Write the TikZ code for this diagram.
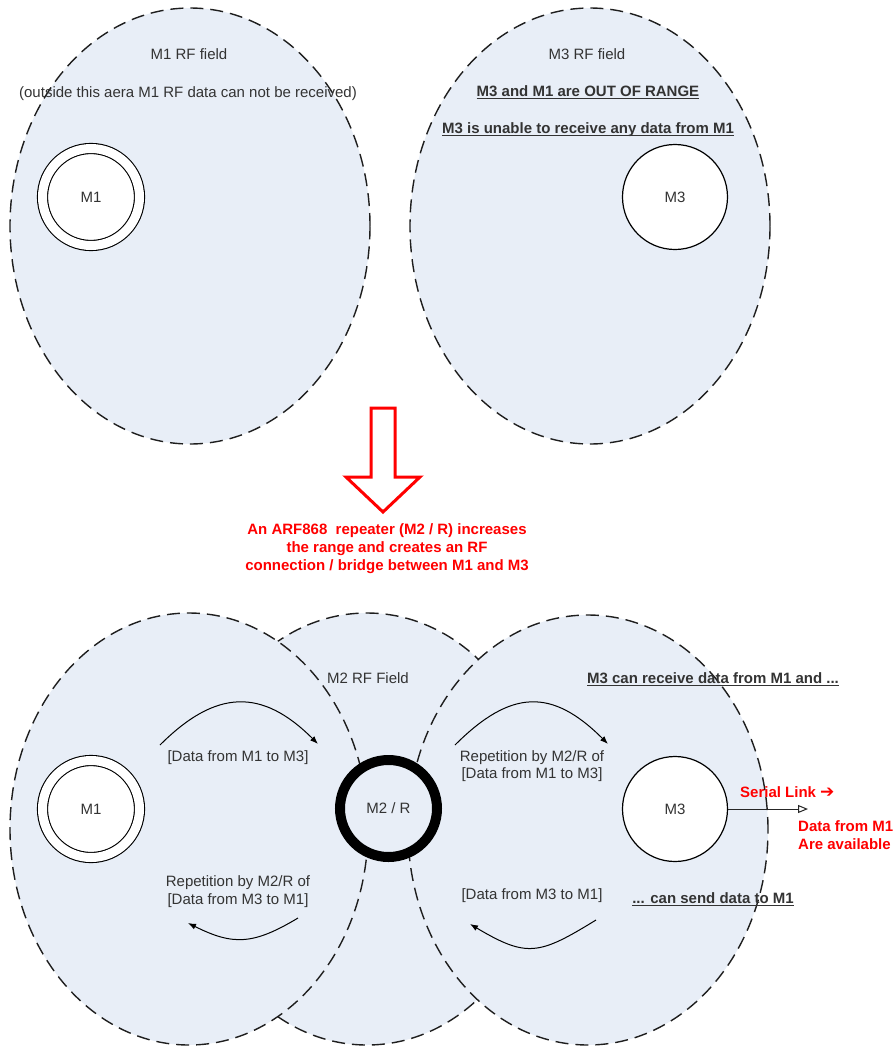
\documentclass[tikz,border=0pt]{standalone}
\usepackage{fontspec}
\setmainfont{Liberation Sans}
\newfontfamily\djv{DejaVu Sans}
\usetikzlibrary{arrows.meta}
\definecolor{fieldfill}{RGB}{232,238,247}
\definecolor{txt}{RGB}{51,51,51}
\definecolor{outline}{RGB}{30,30,30}
\newcommand{\myul}[1]{\setbox0\hbox{#1}\rlap{\rule[-3pt]{\wd0}{1.3pt}}\box0}
\begin{document}
\begin{tikzpicture}[x=1pt,y=-1pt,
  field/.style={fill=fieldfill, draw=outline, line width=1.4pt, dash pattern=on 13pt off 7pt},
  lbl/.style={text=txt, font=\fontsize{15pt}{18pt}\selectfont, inner sep=0pt, anchor=base},
  blbl/.style={lbl, font=\fontsize{15pt}{18pt}\selectfont\bfseries},
  redlbl/.style={text=red, font=\fontsize{15pt}{18pt}\selectfont\bfseries, inner sep=0pt},
  station/.style={circle, draw=black, line width=1.2pt, fill=white, minimum size=105pt, inner sep=0pt, text=txt, font=\fontsize{15pt}{18pt}\selectfont},
  dstation/.style={station, double, double distance=9pt, minimum size=97pt, line width=1.1pt},
  repeater/.style={circle, draw=black, fill=fieldfill, line width=10pt, minimum size=97pt, inner sep=0pt, text=txt, font=\fontsize{15pt}{18pt}\selectfont},
  flow/.style={draw=black, line width=1pt, -{Latex[length=8pt,width=6pt]}},
]
\useasboundingbox (0,0) rectangle (893,1047);

% ---------- top part ----------
\draw[field] (190,226) ellipse [x radius=180pt, y radius=218pt];
\draw[field] (590,226) ellipse [x radius=180pt, y radius=218pt];

\node[lbl] (t1) at (189,59) {M1 RF field};
\node[lbl] (t2) at (188,97) {(outside this aera M1 RF data can not be received)};
\node[lbl] (t3) at (587,59) {M3 RF field};
\node[blbl] (t4) at (588,96) {\myul{M3 and M1 are OUT OF RANGE}};
\node[blbl] (t5) at (588,133) {\myul{M3 is unable to receive any data from M1}};

\node[dstation] (m1t) at (91,197) {M1};
\node[station] (m3t) at (675,197) {M3};

% ---------- red arrow ----------
\draw[draw=red, line width=3pt, fill=white, line join=miter]
  (371,408) -- (395,408) -- (395,477) -- (420,477) -- (383,512) -- (346,477) -- (371,477) -- cycle;
\node[redlbl, align=center, anchor=north] (redtxt) at (387,523)
  {An ARF868\ \ repeater (M2 / R) increases\\the range and creates an RF\\connection / bridge between M1 and M3};

% ---------- bottom part ----------
\draw[field] (367,829) ellipse [x radius=180pt, y radius=216pt];
\draw[field] (189,829) ellipse [x radius=179pt, y radius=216pt];
\draw[field] (588,830) ellipse [x radius=180pt, y radius=215pt];

\node[lbl] (m2f) at (368,683) {M2 RF Field};
\node[blbl] (rx) at (713,683) {\myul{M3 can receive data from M1 and ...}};
\node[blbl] (tx) at (713,903) {\myul{... can send data to M1}};

\node[dstation] (m1b) at (91,809) {M1};
\node[repeater] (m2) at (388.5,808.5) {M2 / R};
\node[station] (m3b) at (675,809) {M3};

\node[lbl] (l1) at (238,761) {[Data from M1 to M3]};
\node[lbl] (l2) at (238,886) {Repetition by M2/R of};
\node[lbl] (l3) at (238,904) {[Data from M3 to M1]};
\node[lbl] (r1) at (532,761) {Repetition by M2/R of};
\node[lbl] (r2) at (532,778) {[Data from M1 to M3]};
\node[lbl] (r3) at (532,899) {[Data from M3 to M1]};

\coordinate (a1s) at (160,745); \coordinate (a1e) at (318,744);
\coordinate (a2s) at (298,918); \coordinate (a2e) at (188,923);
\coordinate (a3s) at (455,745); \coordinate (a3e) at (608,744);
\coordinate (a4s) at (596,920); \coordinate (a4e) at (470,924);
\draw[flow] (a1s) .. controls (216,689) and (262,688) .. (a1e);
\draw[flow] (a2s) .. controls (253,945) and (233,945.5) .. (a2e);
\draw[flow] (a3s) .. controls (511,689) and (552,688) .. (a3e);
\draw[flow] (a4s) .. controls (539,955) and (527,958) .. (a4e);

\coordinate (serialend) at (808,809);
\draw[draw=black!85, line width=1pt, -{Triangle[length=10pt,width=8pt,fill=white]}] (m3b.east) -- (serialend);
\node[redlbl, anchor=base west] (serial) at (740,797) {Serial Link {\djv\bfseries\fontsize{17pt}{18pt}\selectfont ➔}};
\node[redlbl, anchor=north west, align=left] (avail) at (798,820) {Data from M1\\Are available};
\end{tikzpicture}
\end{document}
